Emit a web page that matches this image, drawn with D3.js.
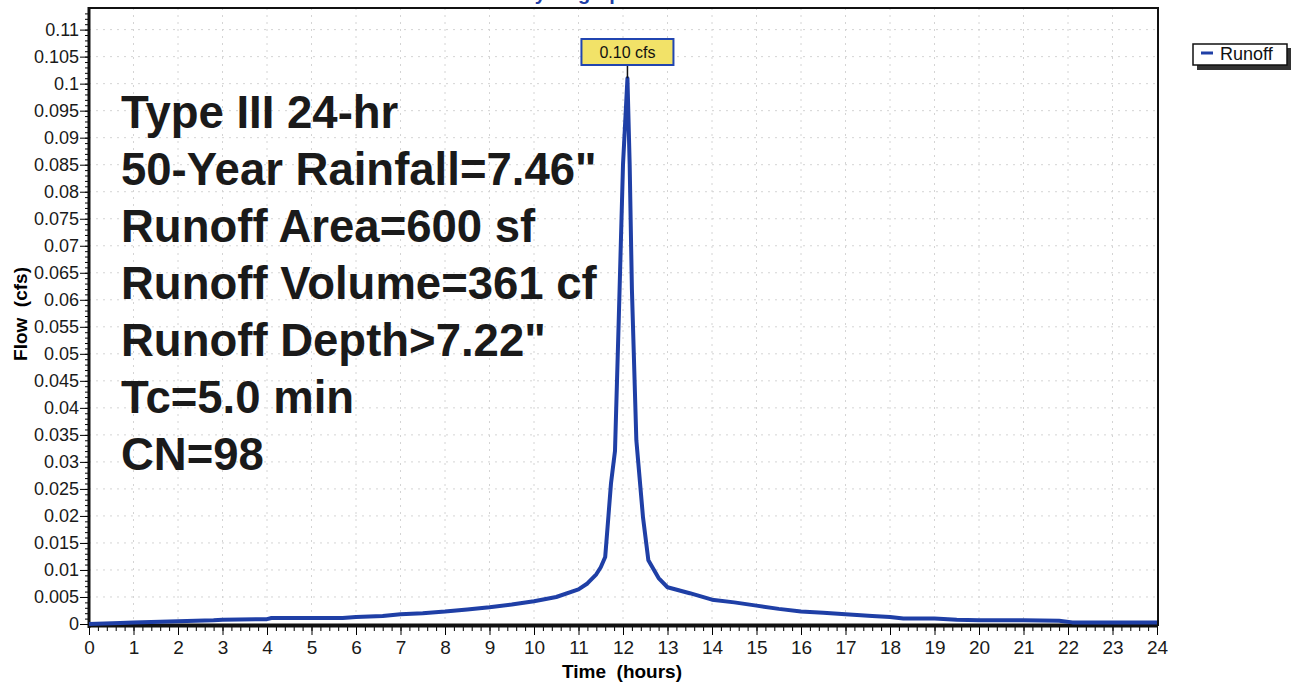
<!DOCTYPE html>
<html>
<head>
<meta charset="utf-8">
<script src="https://cdn.jsdelivr.net/npm/d3@7"></script>
<style>
  body { margin: 0; background: #fff; }
  svg { display: block; font-family: Arial, "Liberation Sans", sans-serif; }
</style>
</head>
<body>
<div id="chart"></div>
<script>
// hydrograph values (hours, cfs)
var times = [0, 0.7, 1.0, 1.6, 2.0, 2.8, 3.0, 4.0, 4.1, 5.0, 5.7, 6.0, 6.6, 7.0, 7.5, 8.0, 8.5, 9.0, 9.5, 10.0,
  10.5, 11.0, 11.2, 11.4, 11.5, 11.6, 11.67, 11.73, 11.82, 11.9, 12.0, 12.1, 12.15, 12.2, 12.3, 12.45, 12.57,
  12.8, 13.0, 13.5, 14.0, 14.5, 15.0, 15.5, 16.0, 16.5, 17.0, 17.6, 18.0, 18.3, 19.0, 19.5, 20.0, 21.0, 21.8,
  22.1, 23.0, 24.0];
var flows = [0, 0.0002, 0.0003, 0.0004, 0.0005, 0.0007, 0.0008, 0.0009, 0.0011, 0.0011, 0.0011, 0.0013, 0.0015,
  0.0018, 0.0020, 0.0023, 0.0027, 0.0031, 0.0036, 0.0042, 0.0050, 0.0064, 0.0075, 0.0092, 0.0105, 0.0124, 0.0197,
  0.026, 0.032, 0.055, 0.085, 0.101, 0.085, 0.062, 0.034, 0.0197, 0.0118, 0.0085, 0.0068, 0.0057, 0.0045, 0.0040,
  0.0034, 0.0028, 0.0023, 0.0021, 0.0018, 0.0015, 0.0013, 0.0010, 0.0010, 0.0008, 0.0007, 0.0007, 0.0006,
  0.0003, 0.0003, 0.0003];

var xTickValues = d3.range(0, 25);
var yTickValues = [0, 0.005, 0.01, 0.015, 0.02, 0.025, 0.03, 0.035, 0.04, 0.045, 0.05, 0.055, 0.06, 0.065,
  0.07, 0.075, 0.08, 0.085, 0.09, 0.095, 0.1, 0.105, 0.11];
var yTickLabels = ["0", "0.005", "0.01", "0.015", "0.02", "0.025", "0.03", "0.035", "0.04", "0.045", "0.05",
  "0.055", "0.06", "0.065", "0.07", "0.075", "0.08", "0.085", "0.09", "0.095", "0.1", "0.105", "0.11"];

var infoLines = ["Type III 24-hr", "50-Year Rainfall=7.46\"", "Runoff Area=600 sf", "Runoff Volume=361 cf",
  "Runoff Depth>7.22\"", "Tc=5.0 min", "CN=98"];
var peakLabel = "0.10 cfs";
var seriesName = "Runoff";
var blue = "#1f3fa6";

var W = 1291, H = 683;
var pLeft = 89, pRight = 1158, pTop = 8, pBottom = 624;

var svg = d3.select("#chart").append("svg")
  .attr("width", W)
  .attr("height", H);

var x = d3.scaleLinear().domain([0, 24]).range([pLeft, 1157]);
var y = d3.scaleLinear().domain([0, 0.114]).range([pBottom, pTop]);

// title, cut off by the top edge of the page
svg.append("text")
  .attr("x", 577)
  .attr("y", 0)
  .attr("text-anchor", "middle")
  .style("font-size", "20px")
  .style("font-weight", "bold")
  .style("fill", blue)
  .text("Hydrograph");

// faint dotted grid
svg.selectAll(".hgrid")
  .data(yTickValues.slice(1))
  .enter().append("line")
  .attr("x1", pLeft).attr("x2", pRight)
  .attr("y1", function (d) { return y(d); })
  .attr("y2", function (d) { return y(d); })
  .attr("stroke", "#d4d4d4")
  .attr("stroke-dasharray", "2,5");

svg.selectAll(".vgrid")
  .data(xTickValues.slice(1, 24))
  .enter().append("line")
  .attr("y1", pTop).attr("y2", pBottom)
  .attr("x1", function (d) { return x(d); })
  .attr("x2", function (d) { return x(d); })
  .attr("stroke", "#d4d4d4")
  .attr("stroke-dasharray", "2,5");

// frame top and right
svg.append("path")
  .attr("d", "M" + pLeft + "," + pTop + "H" + pRight + "V" + (pBottom + 2))
  .attr("fill", "none")
  .attr("stroke", "#111")
  .attr("stroke-width", 2);

// minor ticks
svg.append("g")
  .attr("transform", "translate(" + pLeft + ",0)")
  .call(d3.axisLeft(y).tickValues(d3.range(0, 114).map(function (i) { return i / 1000; })).tickSize(4).tickFormat(""))
  .call(function (g) { g.select(".domain").remove(); });

svg.append("g")
  .attr("transform", "translate(0," + (pBottom + 3) + ")")
  .call(d3.axisBottom(x).tickValues(d3.range(0, 121).map(function (i) { return i / 5; })).tickSize(4).tickFormat(""))
  .call(function (g) { g.select(".domain").remove(); });

// y axis
var yAxis = svg.append("g")
  .attr("transform", "translate(" + pLeft + ",0)")
  .call(d3.axisLeft(y).tickValues(yTickValues).tickSize(9).tickPadding(1)
    .tickFormat(function (d, i) { return yTickLabels[i]; }));
yAxis.select(".domain").remove();
yAxis.selectAll("text").style("font-size", "18px").style("fill", "#1a1a1a");

svg.append("line")
  .attr("x1", pLeft).attr("x2", pLeft)
  .attr("y1", pTop - 1).attr("y2", pBottom + 4)
  .attr("stroke", "#111")
  .attr("stroke-width", 3);

// x axis
var xAxis = svg.append("g")
  .attr("transform", "translate(0," + (pBottom + 3) + ")")
  .call(d3.axisBottom(x).tickValues(xTickValues).tickSize(8).tickPadding(6));
xAxis.select(".domain").remove();
xAxis.selectAll("text").style("font-size", "19px").style("fill", "#1a1a1a");

svg.append("line")
  .attr("x1", pLeft - 1).attr("x2", pRight)
  .attr("y1", pBottom + 1.5).attr("y2", pBottom + 1.5)
  .attr("stroke", "#111")
  .attr("stroke-width", 4);

// axis titles
svg.append("text")
  .attr("x", 622)
  .attr("y", 678)
  .attr("text-anchor", "middle")
  .style("font-size", "19px")
  .style("font-weight", "bold")
  .style("white-space", "pre")
  .text("Time  (hours)");

svg.append("text")
  .attr("transform", "translate(27,314)rotate(-90)")
  .attr("text-anchor", "middle")
  .style("font-size", "19px")
  .style("font-weight", "bold")
  .style("white-space", "pre")
  .text("Flow  (cfs)");

// runoff curve
var line = d3.line()
  .x(function (d, i) { return x(times[i]); })
  .y(function (d) { return y(d); });

svg.append("path")
  .datum(flows)
  .attr("d", line)
  .attr("fill", "none")
  .attr("stroke", blue)
  .attr("stroke-width", 4)
  .attr("stroke-linejoin", "round");

// peak callout
var peakIndex = flows.indexOf(d3.max(flows));
var px = x(times[peakIndex]);
svg.append("line")
  .attr("x1", px).attr("x2", px)
  .attr("y1", 65).attr("y2", y(flows[peakIndex]))
  .attr("stroke", "#111")
  .attr("stroke-width", 1.5);
svg.append("rect")
  .attr("x", px - 46).attr("y", 39)
  .attr("width", 92).attr("height", 26)
  .attr("fill", "#f2e268")
  .attr("stroke", "#2145b0")
  .attr("stroke-width", 2);
svg.append("text")
  .attr("x", px).attr("y", 58)
  .attr("text-anchor", "middle")
  .style("font-size", "16px")
  .style("fill", "#111")
  .text(peakLabel);

// storm info text
svg.selectAll(".info")
  .data(infoLines)
  .enter().append("text")
  .attr("x", 121)
  .attr("y", function (d, i) { return 128 + i * 57; })
  .style("font-size", "45.5px")
  .style("font-weight", "bold")
  .style("fill", "#1a1a1a")
  .text(function (d) { return d; });

// legend
svg.append("rect")
  .attr("x", 1197).attr("y", 48)
  .attr("width", 94).attr("height", 22)
  .attr("fill", "#333");
svg.append("rect")
  .attr("x", 1193).attr("y", 44)
  .attr("width", 94).attr("height", 21)
  .attr("fill", "#fff")
  .attr("stroke", "#111")
  .attr("stroke-width", 1.5);
svg.append("line")
  .attr("x1", 1201).attr("x2", 1213)
  .attr("y1", 53).attr("y2", 53)
  .attr("stroke", blue)
  .attr("stroke-width", 3);
svg.append("text")
  .attr("x", 1220).attr("y", 60)
  .style("font-size", "18px")
  .style("fill", "#111")
  .text(seriesName);
</script>
</body>
</html>
